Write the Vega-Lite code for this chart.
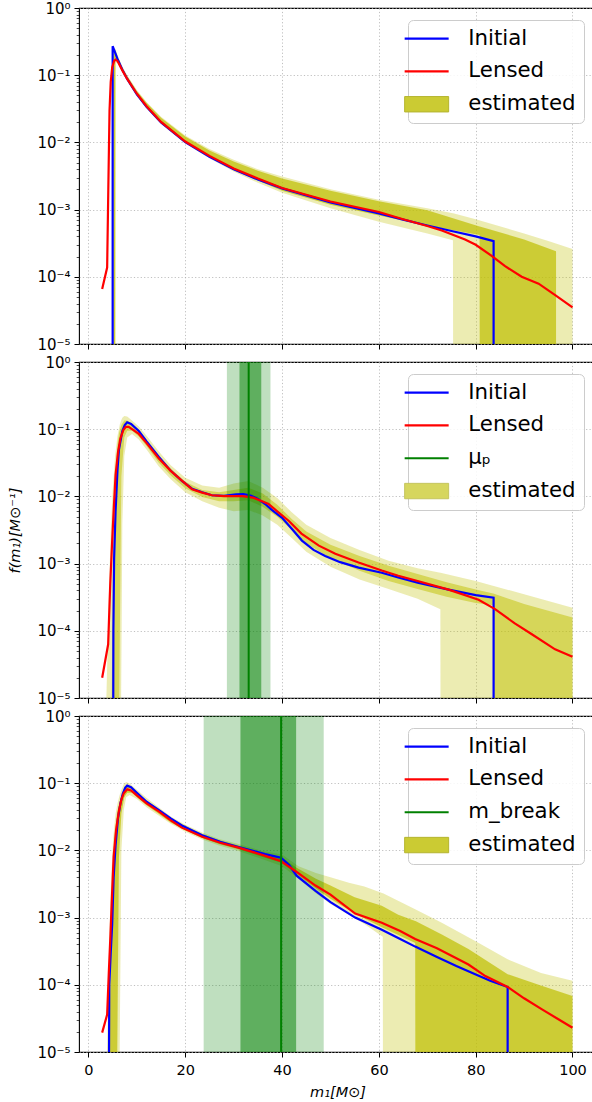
{
"$schema": "https://vega.github.io/schema/vega-lite/v6.json",
"background": "white",
"padding": {"left": 7, "top": 0, "right": 0, "bottom": 0},
"spacing": 18,
"bounds": "flush",
"resolve": {"scale": {"color": "independent"}, "legend": {"color": "independent"}},
"config": {
  "font": "DejaVu Sans",
  "view": {"stroke": "#000000", "strokeWidth": 1.1},
  "axis": {"domain": false, "tickColor": "#000000", "labelColor": "#000000", "labelFont": "DejaVu Sans", "labelFontSize": 14.5, "titleFont": "DejaVu Sans", "titleFontSize": 14.5, "titleColor": "#000000", "titleFontWeight": "normal", "gridColor": "#b0b0b0", "gridDash": [1.2, 2.2], "gridWidth": 0.8, "labelPadding": 4, "labelOverlap": false, "labelFlush": false, "tickSize": 5},
  "axisY": {"labelFontSize": 15},
  "legend": {"orient": "top-right", "offset": 12, "labelFont": "DejaVu Sans", "labelFontSize": 21.3, "labelColor": "#000000", "symbolSize": 1936, "symbolStrokeWidth": 2.2, "strokeColor": "#cccccc", "fillColor": "rgba(255,255,255,0.85)", "cornerRadius": 5, "padding": 8, "rowPadding": 10.8, "labelOffset": 31, "symbolType": "stroke", "labelLimit": 300}
},
"datasets": {
"lines": [
{"p":1,"s":"Initial","i":0,"x":5,"y":1e-6},{"p":1,"s":"Initial","i":1,"x":5,"y":0.27},{"p":1,"s":"Initial","i":2,"x":6,"y":0.175},{"p":1,"s":"Initial","i":3,"x":7,"y":0.121},{"p":1,"s":"Initial","i":4,"x":8,"y":0.088},{"p":1,"s":"Initial","i":5,"x":10,"y":0.052},{"p":1,"s":"Initial","i":6,"x":12,"y":0.0338},{"p":1,"s":"Initial","i":7,"x":15,"y":0.0198},{"p":1,"s":"Initial","i":8,"x":20,"y":0.0101},{"p":1,"s":"Initial","i":9,"x":25,"y":0.0061},{"p":1,"s":"Initial","i":10,"x":30,"y":0.004},{"p":1,"s":"Initial","i":11,"x":35,"y":0.0028},{"p":1,"s":"Initial","i":12,"x":40,"y":0.00207},{"p":1,"s":"Initial","i":13,"x":50,"y":0.00128},{"p":1,"s":"Initial","i":14,"x":60,"y":0.00088},{"p":1,"s":"Initial","i":15,"x":65,"y":0.00071},{"p":1,"s":"Initial","i":16,"x":70,"y":0.00058},{"p":1,"s":"Initial","i":17,"x":75,"y":0.00048},{"p":1,"s":"Initial","i":18,"x":80,"y":0.0004},{"p":1,"s":"Initial","i":19,"x":83.7,"y":0.00034},{"p":1,"s":"Initial","i":20,"x":83.7,"y":1e-6},
{"p":1,"s":"Lensed","i":0,"x":2.83,"y":6.6e-5},{"p":1,"s":"Lensed","i":1,"x":3.86,"y":1.37e-4},{"p":1,"s":"Lensed","i":2,"x":4.1,"y":0.002},{"p":1,"s":"Lensed","i":3,"x":4.35,"y":0.0295},{"p":1,"s":"Lensed","i":4,"x":4.6,"y":0.08},{"p":1,"s":"Lensed","i":5,"x":4.9,"y":0.13},{"p":1,"s":"Lensed","i":6,"x":5.3,"y":0.163},{"p":1,"s":"Lensed","i":7,"x":5.6,"y":0.17},{"p":1,"s":"Lensed","i":8,"x":6,"y":0.163},{"p":1,"s":"Lensed","i":9,"x":7,"y":0.118},{"p":1,"s":"Lensed","i":10,"x":8,"y":0.088},{"p":1,"s":"Lensed","i":11,"x":10,"y":0.053},{"p":1,"s":"Lensed","i":12,"x":12,"y":0.0345},{"p":1,"s":"Lensed","i":13,"x":15,"y":0.0202},{"p":1,"s":"Lensed","i":14,"x":20,"y":0.0103},{"p":1,"s":"Lensed","i":15,"x":25,"y":0.0063},{"p":1,"s":"Lensed","i":16,"x":30,"y":0.0041},{"p":1,"s":"Lensed","i":17,"x":35,"y":0.0029},{"p":1,"s":"Lensed","i":18,"x":40,"y":0.0021},{"p":1,"s":"Lensed","i":19,"x":50,"y":0.00132},{"p":1,"s":"Lensed","i":20,"x":60,"y":0.00092},{"p":1,"s":"Lensed","i":21,"x":65,"y":0.00072},{"p":1,"s":"Lensed","i":22,"x":70,"y":0.00057},{"p":1,"s":"Lensed","i":23,"x":73,"y":0.00049},{"p":1,"s":"Lensed","i":24,"x":77.8,"y":0.00036},{"p":1,"s":"Lensed","i":25,"x":80,"y":0.0003},{"p":1,"s":"Lensed","i":26,"x":83.3,"y":0.000205},{"p":1,"s":"Lensed","i":27,"x":86,"y":0.000145},{"p":1,"s":"Lensed","i":28,"x":89.5,"y":0.0001},{"p":1,"s":"Lensed","i":29,"x":93,"y":7.9e-5},{"p":1,"s":"Lensed","i":30,"x":96.5,"y":5.3e-5},{"p":1,"s":"Lensed","i":31,"x":100,"y":3.5e-5},
{"p":2,"s":"Initial","i":0,"x":5.1,"y":1e-6},{"p":2,"s":"Initial","i":1,"x":5.15,"y":1e-4},{"p":2,"s":"Initial","i":2,"x":5.3,"y":0.0012},{"p":2,"s":"Initial","i":3,"x":5.6,"y":0.006},{"p":2,"s":"Initial","i":4,"x":6,"y":0.025},{"p":2,"s":"Initial","i":5,"x":6.3,"y":0.05},{"p":2,"s":"Initial","i":6,"x":7,"y":0.094},{"p":2,"s":"Initial","i":7,"x":7.5,"y":0.115},{"p":2,"s":"Initial","i":8,"x":8,"y":0.127},{"p":2,"s":"Initial","i":9,"x":8.8,"y":0.12},{"p":2,"s":"Initial","i":10,"x":10.4,"y":0.094},{"p":2,"s":"Initial","i":11,"x":12,"y":0.066},{"p":2,"s":"Initial","i":12,"x":14.5,"y":0.039},{"p":2,"s":"Initial","i":13,"x":17,"y":0.024},{"p":2,"s":"Initial","i":14,"x":19.3,"y":0.017},{"p":2,"s":"Initial","i":15,"x":21.4,"y":0.013},{"p":2,"s":"Initial","i":16,"x":23.5,"y":0.0115},{"p":2,"s":"Initial","i":17,"x":25.5,"y":0.0104},{"p":2,"s":"Initial","i":18,"x":28,"y":0.0102},{"p":2,"s":"Initial","i":19,"x":30.5,"y":0.0107},{"p":2,"s":"Initial","i":20,"x":32,"y":0.0108},{"p":2,"s":"Initial","i":21,"x":33.5,"y":0.0103},{"p":2,"s":"Initial","i":22,"x":35,"y":0.0092},{"p":2,"s":"Initial","i":23,"x":36.5,"y":0.0077},{"p":2,"s":"Initial","i":24,"x":38,"y":0.0062},{"p":2,"s":"Initial","i":25,"x":40,"y":0.0048},{"p":2,"s":"Initial","i":26,"x":42,"y":0.0033},{"p":2,"s":"Initial","i":27,"x":44.1,"y":0.0022},{"p":2,"s":"Initial","i":28,"x":46.5,"y":0.0016},{"p":2,"s":"Initial","i":29,"x":48.9,"y":0.0013},{"p":2,"s":"Initial","i":30,"x":52,"y":0.00105},{"p":2,"s":"Initial","i":31,"x":55.8,"y":0.00087},{"p":2,"s":"Initial","i":32,"x":60.6,"y":0.00073},{"p":2,"s":"Initial","i":33,"x":64,"y":0.00062},{"p":2,"s":"Initial","i":34,"x":68,"y":0.00052},{"p":2,"s":"Initial","i":35,"x":74.4,"y":0.00041},{"p":2,"s":"Initial","i":36,"x":80,"y":0.00034},{"p":2,"s":"Initial","i":37,"x":83.7,"y":0.00031},{"p":2,"s":"Initial","i":38,"x":83.7,"y":1e-6},
{"p":2,"s":"Lensed","i":0,"x":2.83,"y":2e-5},{"p":2,"s":"Lensed","i":1,"x":4.07,"y":6.3e-5},{"p":2,"s":"Lensed","i":2,"x":4.5,"y":5e-4},{"p":2,"s":"Lensed","i":3,"x":4.9,"y":0.0022},{"p":2,"s":"Lensed","i":4,"x":5.2,"y":0.006},{"p":2,"s":"Lensed","i":5,"x":5.6,"y":0.021},{"p":2,"s":"Lensed","i":6,"x":6.1,"y":0.045},{"p":2,"s":"Lensed","i":7,"x":6.6,"y":0.073},{"p":2,"s":"Lensed","i":8,"x":7.2,"y":0.097},{"p":2,"s":"Lensed","i":9,"x":7.7,"y":0.108},{"p":2,"s":"Lensed","i":10,"x":8.3,"y":0.108},{"p":2,"s":"Lensed","i":11,"x":9,"y":0.1},{"p":2,"s":"Lensed","i":12,"x":10.4,"y":0.085},{"p":2,"s":"Lensed","i":13,"x":12,"y":0.062},{"p":2,"s":"Lensed","i":14,"x":14.5,"y":0.037},{"p":2,"s":"Lensed","i":15,"x":17,"y":0.024},{"p":2,"s":"Lensed","i":16,"x":19.3,"y":0.0172},{"p":2,"s":"Lensed","i":17,"x":21.4,"y":0.0128},{"p":2,"s":"Lensed","i":18,"x":23.5,"y":0.0114},{"p":2,"s":"Lensed","i":19,"x":25.5,"y":0.0104},{"p":2,"s":"Lensed","i":20,"x":28,"y":0.0101},{"p":2,"s":"Lensed","i":21,"x":31.8,"y":0.0101},{"p":2,"s":"Lensed","i":22,"x":34,"y":0.0096},{"p":2,"s":"Lensed","i":23,"x":36,"y":0.0084},{"p":2,"s":"Lensed","i":24,"x":37.2,"y":0.0077},{"p":2,"s":"Lensed","i":25,"x":39,"y":0.006},{"p":2,"s":"Lensed","i":26,"x":41.4,"y":0.0043},{"p":2,"s":"Lensed","i":27,"x":44,"y":0.0028},{"p":2,"s":"Lensed","i":28,"x":47.6,"y":0.00185},{"p":2,"s":"Lensed","i":29,"x":51,"y":0.0014},{"p":2,"s":"Lensed","i":30,"x":55.8,"y":0.00104},{"p":2,"s":"Lensed","i":31,"x":60.6,"y":0.00079},{"p":2,"s":"Lensed","i":32,"x":64,"y":0.00066},{"p":2,"s":"Lensed","i":33,"x":68,"y":0.00055},{"p":2,"s":"Lensed","i":34,"x":74.4,"y":0.00041},{"p":2,"s":"Lensed","i":35,"x":80.6,"y":0.00029},{"p":2,"s":"Lensed","i":36,"x":84,"y":0.00021},{"p":2,"s":"Lensed","i":37,"x":88,"y":0.00013},{"p":2,"s":"Lensed","i":38,"x":91.6,"y":8.9e-5},{"p":2,"s":"Lensed","i":39,"x":96.4,"y":5.3e-5},{"p":2,"s":"Lensed","i":40,"x":100,"y":4.1e-5},
{"p":3,"s":"Initial","i":0,"x":4.2,"y":1e-6},{"p":3,"s":"Initial","i":1,"x":4.3,"y":1e-4},{"p":3,"s":"Initial","i":2,"x":4.6,"y":3e-4},{"p":3,"s":"Initial","i":3,"x":4.9,"y":8e-4},{"p":3,"s":"Initial","i":4,"x":5.2,"y":0.004},{"p":3,"s":"Initial","i":5,"x":5.6,"y":0.012},{"p":3,"s":"Initial","i":6,"x":6.1,"y":0.03},{"p":3,"s":"Initial","i":7,"x":6.6,"y":0.05},{"p":3,"s":"Initial","i":8,"x":7.1,"y":0.07},{"p":3,"s":"Initial","i":9,"x":7.6,"y":0.086},{"p":3,"s":"Initial","i":10,"x":8,"y":0.092},{"p":3,"s":"Initial","i":11,"x":8.8,"y":0.087},{"p":3,"s":"Initial","i":12,"x":10,"y":0.072},{"p":3,"s":"Initial","i":13,"x":12,"y":0.053},{"p":3,"s":"Initial","i":14,"x":14.5,"y":0.04},{"p":3,"s":"Initial","i":15,"x":17,"y":0.03},{"p":3,"s":"Initial","i":16,"x":19.3,"y":0.0235},{"p":3,"s":"Initial","i":17,"x":23.5,"y":0.0168},{"p":3,"s":"Initial","i":18,"x":27.2,"y":0.0134},{"p":3,"s":"Initial","i":19,"x":31,"y":0.0112},{"p":3,"s":"Initial","i":20,"x":36.5,"y":0.0088},{"p":3,"s":"Initial","i":21,"x":39.8,"y":0.0078},{"p":3,"s":"Initial","i":22,"x":41.5,"y":0.006},{"p":3,"s":"Initial","i":23,"x":43,"y":0.0042},{"p":3,"s":"Initial","i":24,"x":46.9,"y":0.0025},{"p":3,"s":"Initial","i":25,"x":50,"y":0.0017},{"p":3,"s":"Initial","i":26,"x":55.1,"y":0.001},{"p":3,"s":"Initial","i":27,"x":60.6,"y":0.00066},{"p":3,"s":"Initial","i":28,"x":64.4,"y":0.00048},{"p":3,"s":"Initial","i":29,"x":67.5,"y":0.00037},{"p":3,"s":"Initial","i":30,"x":72,"y":0.00026},{"p":3,"s":"Initial","i":31,"x":76,"y":0.00019},{"p":3,"s":"Initial","i":32,"x":79.9,"y":0.000143},{"p":3,"s":"Initial","i":33,"x":83,"y":0.000115},{"p":3,"s":"Initial","i":34,"x":86.6,"y":9.3e-5},{"p":3,"s":"Initial","i":35,"x":86.6,"y":1e-6},
{"p":3,"s":"Lensed","i":0,"x":2.83,"y":1.94e-5},{"p":3,"s":"Lensed","i":1,"x":3.86,"y":3.6e-5},{"p":3,"s":"Lensed","i":2,"x":4.2,"y":1.5e-4},{"p":3,"s":"Lensed","i":3,"x":4.55,"y":5.7e-4},{"p":3,"s":"Lensed","i":4,"x":4.9,"y":0.0025},{"p":3,"s":"Lensed","i":5,"x":5.2,"y":0.008},{"p":3,"s":"Lensed","i":6,"x":5.7,"y":0.02},{"p":3,"s":"Lensed","i":7,"x":6.3,"y":0.039},{"p":3,"s":"Lensed","i":8,"x":6.8,"y":0.057},{"p":3,"s":"Lensed","i":9,"x":7.3,"y":0.071},{"p":3,"s":"Lensed","i":10,"x":8,"y":0.081},{"p":3,"s":"Lensed","i":11,"x":8.8,"y":0.078},{"p":3,"s":"Lensed","i":12,"x":10,"y":0.066},{"p":3,"s":"Lensed","i":13,"x":12,"y":0.05},{"p":3,"s":"Lensed","i":14,"x":14.5,"y":0.038},{"p":3,"s":"Lensed","i":15,"x":17,"y":0.028},{"p":3,"s":"Lensed","i":16,"x":19.3,"y":0.0218},{"p":3,"s":"Lensed","i":17,"x":23.5,"y":0.016},{"p":3,"s":"Lensed","i":18,"x":27.2,"y":0.013},{"p":3,"s":"Lensed","i":19,"x":31,"y":0.011},{"p":3,"s":"Lensed","i":20,"x":36.5,"y":0.0083},{"p":3,"s":"Lensed","i":21,"x":39.8,"y":0.0069},{"p":3,"s":"Lensed","i":22,"x":43,"y":0.0048},{"p":3,"s":"Lensed","i":23,"x":46.9,"y":0.003},{"p":3,"s":"Lensed","i":24,"x":50,"y":0.0022},{"p":3,"s":"Lensed","i":25,"x":55.1,"y":0.00115},{"p":3,"s":"Lensed","i":26,"x":60.6,"y":0.00084},{"p":3,"s":"Lensed","i":27,"x":64.4,"y":0.00063},{"p":3,"s":"Lensed","i":28,"x":67.5,"y":0.00048},{"p":3,"s":"Lensed","i":29,"x":72,"y":0.00035},{"p":3,"s":"Lensed","i":30,"x":78.5,"y":0.0002},{"p":3,"s":"Lensed","i":31,"x":82,"y":0.000135},{"p":3,"s":"Lensed","i":32,"x":86.6,"y":9.3e-5},{"p":3,"s":"Lensed","i":33,"x":90,"y":6.3e-5},{"p":3,"s":"Lensed","i":34,"x":93.7,"y":4.3e-5},{"p":3,"s":"Lensed","i":35,"x":97,"y":3.1e-5},{"p":3,"s":"Lensed","i":36,"x":100,"y":2.3e-5}
],
"bands": [
{"p":1,"b":"90","x":5.0,"lo":1e-6,"hi":0.255},{"p":1,"b":"90","x":5.6,"lo":1e-6,"hi":0.245},{"p":1,"b":"90","x":5.65,"lo":0.15,"hi":0.24},{"p":1,"b":"90","x":6,"lo":0.155,"hi":0.2},{"p":1,"b":"90","x":7,"lo":0.11,"hi":0.135},{"p":1,"b":"90","x":8,"lo":0.082,"hi":0.1},{"p":1,"b":"90","x":10,"lo":0.049,"hi":0.06},{"p":1,"b":"90","x":12,"lo":0.032,"hi":0.04},{"p":1,"b":"90","x":15,"lo":0.0188,"hi":0.024},{"p":1,"b":"90","x":20,"lo":0.0096,"hi":0.0127},{"p":1,"b":"90","x":25,"lo":0.0058,"hi":0.008},{"p":1,"b":"90","x":30,"lo":0.0037,"hi":0.0055},{"p":1,"b":"90","x":35,"lo":0.0025,"hi":0.004},{"p":1,"b":"90","x":40,"lo":0.00178,"hi":0.0031},{"p":1,"b":"90","x":50,"lo":0.00105,"hi":0.002},{"p":1,"b":"90","x":60,"lo":0.00066,"hi":0.0014},{"p":1,"b":"90","x":70,"lo":0.00044,"hi":0.00105},{"p":1,"b":"90","x":75.3,"lo":0.00035,"hi":0.00088},{"p":1,"b":"90","x":75.35,"lo":1e-6,"hi":0.00088},{"p":1,"b":"90","x":80,"lo":1e-6,"hi":0.00072},{"p":1,"b":"90","x":90,"lo":1e-6,"hi":0.00044},{"p":1,"b":"90","x":95,"lo":1e-6,"hi":0.00034},{"p":1,"b":"90","x":100,"lo":1e-6,"hi":0.00026},
{"p":1,"b":"50","x":5.2,"lo":1e-6,"hi":0.25},{"p":1,"b":"50","x":5.5,"lo":1e-6,"hi":0.24},{"p":1,"b":"50","x":5.55,"lo":0.17,"hi":0.235},{"p":1,"b":"50","x":6,"lo":0.16,"hi":0.19},{"p":1,"b":"50","x":7,"lo":0.113,"hi":0.13},{"p":1,"b":"50","x":8,"lo":0.085,"hi":0.097},{"p":1,"b":"50","x":10,"lo":0.05,"hi":0.058},{"p":1,"b":"50","x":12,"lo":0.033,"hi":0.039},{"p":1,"b":"50","x":15,"lo":0.0193,"hi":0.0232},{"p":1,"b":"50","x":20,"lo":0.0099,"hi":0.0122},{"p":1,"b":"50","x":25,"lo":0.006,"hi":0.0076},{"p":1,"b":"50","x":30,"lo":0.0039,"hi":0.0052},{"p":1,"b":"50","x":35,"lo":0.0027,"hi":0.0038},{"p":1,"b":"50","x":40,"lo":0.0019,"hi":0.0029},{"p":1,"b":"50","x":50,"lo":0.00118,"hi":0.0019},{"p":1,"b":"50","x":60,"lo":0.00082,"hi":0.00133},{"p":1,"b":"50","x":70,"lo":0.00058,"hi":0.00098},{"p":1,"b":"50","x":80.8,"lo":0.00042,"hi":0.00056},{"p":1,"b":"50","x":80.85,"lo":1e-6,"hi":0.00056},{"p":1,"b":"50","x":90,"lo":1e-6,"hi":0.00036},{"p":1,"b":"50","x":96.6,"lo":1e-6,"hi":0.00024},
{"p":2,"b":"90","x":3.7,"lo":1e-6,"hi":1e-5},{"p":2,"b":"90","x":4.2,"lo":1e-6,"hi":3e-4},{"p":2,"b":"90","x":4.6,"lo":1e-6,"hi":0.003},{"p":2,"b":"90","x":5,"lo":1e-6,"hi":0.012},{"p":2,"b":"90","x":5.5,"lo":1e-6,"hi":0.04},{"p":2,"b":"90","x":6,"lo":1e-6,"hi":0.08},{"p":2,"b":"90","x":6.5,"lo":1e-6,"hi":0.12},{"p":2,"b":"90","x":6.75,"lo":1e-5,"hi":0.135},{"p":2,"b":"90","x":7,"lo":0.004,"hi":0.148},{"p":2,"b":"90","x":7.4,"lo":0.04,"hi":0.157},{"p":2,"b":"90","x":8,"lo":0.075,"hi":0.155},{"p":2,"b":"90","x":9,"lo":0.085,"hi":0.135},{"p":2,"b":"90","x":10.4,"lo":0.07,"hi":0.11},{"p":2,"b":"90","x":12,"lo":0.05,"hi":0.08},{"p":2,"b":"90","x":14.5,"lo":0.028,"hi":0.047},{"p":2,"b":"90","x":17,"lo":0.018,"hi":0.029},{"p":2,"b":"90","x":20,"lo":0.0115,"hi":0.019},{"p":2,"b":"90","x":23.5,"lo":0.0085,"hi":0.0145},{"p":2,"b":"90","x":27,"lo":0.0068,"hi":0.0135},{"p":2,"b":"90","x":30,"lo":0.006,"hi":0.0155},{"p":2,"b":"90","x":33,"lo":0.0063,"hi":0.017},{"p":2,"b":"90","x":36,"lo":0.0052,"hi":0.0135},{"p":2,"b":"90","x":39,"lo":0.0038,"hi":0.0095},{"p":2,"b":"90","x":42,"lo":0.0024,"hi":0.0058},{"p":2,"b":"90","x":45,"lo":0.0015,"hi":0.0038},{"p":2,"b":"90","x":50,"lo":0.0009,"hi":0.0024},{"p":2,"b":"90","x":56,"lo":0.00058,"hi":0.0016},{"p":2,"b":"90","x":62,"lo":0.00042,"hi":0.0011},{"p":2,"b":"90","x":68,"lo":0.0003,"hi":0.00085},{"p":2,"b":"90","x":72.7,"lo":0.00021,"hi":0.00073},{"p":2,"b":"90","x":72.75,"lo":1e-6,"hi":0.00073},{"p":2,"b":"90","x":80,"lo":1e-6,"hi":0.00055},{"p":2,"b":"90","x":90,"lo":1e-6,"hi":0.00035},{"p":2,"b":"90","x":100,"lo":1e-6,"hi":0.00022},
{"p":2,"b":"50","x":4.8,"lo":1e-6,"hi":1e-5},{"p":2,"b":"50","x":5.1,"lo":1e-6,"hi":0.002},{"p":2,"b":"50","x":5.5,"lo":1e-6,"hi":0.02},{"p":2,"b":"50","x":6,"lo":1e-6,"hi":0.06},{"p":2,"b":"50","x":6.3,"lo":1e-6,"hi":0.085},{"p":2,"b":"50","x":6.35,"lo":1e-5,"hi":0.09},{"p":2,"b":"50","x":6.8,"lo":0.02,"hi":0.115},{"p":2,"b":"50","x":7.4,"lo":0.075,"hi":0.135},{"p":2,"b":"50","x":8,"lo":0.095,"hi":0.135},{"p":2,"b":"50","x":9,"lo":0.095,"hi":0.122},{"p":2,"b":"50","x":10.4,"lo":0.078,"hi":0.097},{"p":2,"b":"50","x":12,"lo":0.056,"hi":0.07},{"p":2,"b":"50","x":14.5,"lo":0.032,"hi":0.041},{"p":2,"b":"50","x":17,"lo":0.0205,"hi":0.026},{"p":2,"b":"50","x":20,"lo":0.0132,"hi":0.0165},{"p":2,"b":"50","x":23.5,"lo":0.0098,"hi":0.0125},{"p":2,"b":"50","x":27,"lo":0.0085,"hi":0.0115},{"p":2,"b":"50","x":30,"lo":0.0085,"hi":0.0125},{"p":2,"b":"50","x":33,"lo":0.0088,"hi":0.0135},{"p":2,"b":"50","x":36,"lo":0.007,"hi":0.011},{"p":2,"b":"50","x":39,"lo":0.005,"hi":0.0075},{"p":2,"b":"50","x":42,"lo":0.0032,"hi":0.0046},{"p":2,"b":"50","x":45,"lo":0.002,"hi":0.003},{"p":2,"b":"50","x":50,"lo":0.0012,"hi":0.0019},{"p":2,"b":"50","x":56,"lo":0.00078,"hi":0.0013},{"p":2,"b":"50","x":62,"lo":0.00055,"hi":0.00093},{"p":2,"b":"50","x":68,"lo":0.00042,"hi":0.0007},{"p":2,"b":"50","x":74,"lo":0.00032,"hi":0.00053},{"p":2,"b":"50","x":80,"lo":0.00026,"hi":0.00041},{"p":2,"b":"50","x":83.6,"lo":0.00024,"hi":0.00036},{"p":2,"b":"50","x":83.65,"lo":1e-6,"hi":0.00036},{"p":2,"b":"50","x":90,"lo":1e-6,"hi":0.00025},{"p":2,"b":"50","x":100,"lo":1e-6,"hi":0.000158},
{"p":3,"b":"90","x":3.85,"lo":1e-6,"hi":1e-5},{"p":3,"b":"90","x":4.3,"lo":1e-6,"hi":5e-4},{"p":3,"b":"90","x":4.7,"lo":1e-6,"hi":0.004},{"p":3,"b":"90","x":5.1,"lo":1e-6,"hi":0.015},{"p":3,"b":"90","x":5.6,"lo":1e-6,"hi":0.035},{"p":3,"b":"90","x":6,"lo":1e-6,"hi":0.05},{"p":3,"b":"90","x":6.4,"lo":1e-6,"hi":0.065},{"p":3,"b":"90","x":6.45,"lo":1e-5,"hi":0.067},{"p":3,"b":"90","x":6.8,"lo":0.01,"hi":0.08},{"p":3,"b":"90","x":7.3,"lo":0.04,"hi":0.097},{"p":3,"b":"90","x":7.8,"lo":0.062,"hi":0.104},{"p":3,"b":"90","x":8.5,"lo":0.067,"hi":0.099},{"p":3,"b":"90","x":10,"lo":0.058,"hi":0.08},{"p":3,"b":"90","x":12,"lo":0.044,"hi":0.06},{"p":3,"b":"90","x":14.5,"lo":0.033,"hi":0.044},{"p":3,"b":"90","x":17,"lo":0.025,"hi":0.032},{"p":3,"b":"90","x":20,"lo":0.019,"hi":0.024},{"p":3,"b":"90","x":23.5,"lo":0.0145,"hi":0.0185},{"p":3,"b":"90","x":27,"lo":0.0118,"hi":0.0148},{"p":3,"b":"90","x":31,"lo":0.0098,"hi":0.0125},{"p":3,"b":"90","x":36,"lo":0.0074,"hi":0.0098},{"p":3,"b":"90","x":40,"lo":0.0058,"hi":0.0087},{"p":3,"b":"90","x":43.4,"lo":0.0038,"hi":0.0058},{"p":3,"b":"90","x":47,"lo":0.0023,"hi":0.0046},{"p":3,"b":"90","x":50,"lo":0.0016,"hi":0.004},{"p":3,"b":"90","x":53.8,"lo":0.0011,"hi":0.0033},{"p":3,"b":"90","x":57,"lo":0.0008,"hi":0.0029},{"p":3,"b":"90","x":60.8,"lo":0.00052,"hi":0.0023},{"p":3,"b":"90","x":60.85,"lo":1e-6,"hi":0.0023},{"p":3,"b":"90","x":67.5,"lo":1e-6,"hi":0.00133},{"p":3,"b":"90","x":73,"lo":1e-6,"hi":0.00084},{"p":3,"b":"90","x":79.9,"lo":1e-6,"hi":0.00045},{"p":3,"b":"90","x":86.6,"lo":1e-6,"hi":0.00024},{"p":3,"b":"90","x":93.5,"lo":1e-6,"hi":0.00015},{"p":3,"b":"90","x":100,"lo":1e-6,"hi":0.000115},
{"p":3,"b":"50","x":4.3,"lo":1e-6,"hi":1e-5},{"p":3,"b":"50","x":4.7,"lo":1e-6,"hi":0.001},{"p":3,"b":"50","x":5.1,"lo":1e-6,"hi":0.008},{"p":3,"b":"50","x":5.5,"lo":1e-6,"hi":0.02},{"p":3,"b":"50","x":5.9,"lo":1e-6,"hi":0.035},{"p":3,"b":"50","x":5.95,"lo":1e-5,"hi":0.037},{"p":3,"b":"50","x":6.3,"lo":0.008,"hi":0.048},{"p":3,"b":"50","x":6.8,"lo":0.035,"hi":0.065},{"p":3,"b":"50","x":7.4,"lo":0.062,"hi":0.085},{"p":3,"b":"50","x":8,"lo":0.072,"hi":0.09},{"p":3,"b":"50","x":9,"lo":0.072,"hi":0.084},{"p":3,"b":"50","x":10,"lo":0.062,"hi":0.073},{"p":3,"b":"50","x":12,"lo":0.047,"hi":0.055},{"p":3,"b":"50","x":14.5,"lo":0.035,"hi":0.041},{"p":3,"b":"50","x":17,"lo":0.026,"hi":0.03},{"p":3,"b":"50","x":20,"lo":0.02,"hi":0.0232},{"p":3,"b":"50","x":23.5,"lo":0.0153,"hi":0.0175},{"p":3,"b":"50","x":27,"lo":0.0125,"hi":0.0142},{"p":3,"b":"50","x":31,"lo":0.0104,"hi":0.0118},{"p":3,"b":"50","x":36,"lo":0.008,"hi":0.0091},{"p":3,"b":"50","x":40,"lo":0.0065,"hi":0.0077},{"p":3,"b":"50","x":43,"lo":0.0044,"hi":0.0055},{"p":3,"b":"50","x":47,"lo":0.0027,"hi":0.0038},{"p":3,"b":"50","x":50,"lo":0.0019,"hi":0.003},{"p":3,"b":"50","x":55,"lo":0.00115,"hi":0.002},{"p":3,"b":"50","x":60.6,"lo":0.00072,"hi":0.0015},{"p":3,"b":"50","x":64,"lo":0.00055,"hi":0.0011},{"p":3,"b":"50","x":67.5,"lo":0.00042,"hi":0.00089},{"p":3,"b":"50","x":67.55,"lo":1e-6,"hi":0.00089},{"p":3,"b":"50","x":73,"lo":1e-6,"hi":0.00056},{"p":3,"b":"50","x":78.5,"lo":1e-6,"hi":0.00034},{"p":3,"b":"50","x":86.6,"lo":1e-6,"hi":0.000144},{"p":3,"b":"50","x":93,"lo":1e-6,"hi":0.0001},{"p":3,"b":"50","x":100,"lo":1e-6,"hi":6.8e-5}
],
"spans": [
{"p":2,"k":"outer","x1":28.6,"x2":37.6},{"p":2,"k":"inner","x1":31.2,"x2":35.7},
{"p":3,"k":"outer","x1":23.8,"x2":48.6},{"p":3,"k":"inner","x1":31.4,"x2":42.9}
],
"vlines": [
{"p":2,"s":"μₚ","x":33.1},{"p":3,"s":"m_break","x":39.8}
]
},
"vconcat": [
{
"width": 517, "height": 336,
"layer": [
{"data": {"name": "bands"}, "transform": [{"filter": "datum.p == 1 && datum.b == '90'"}],
 "mark": {"type": "area", "clip": true, "color": "#bfbf00", "opacity": 0.3},
 "encoding": {
  "x": {"field": "x", "type": "quantitative", "scale": {"domain": [-1.955, 104.855], "nice": false, "zero": false}, "axis": {"values": [0,20,40,60,80,100], "labels": false, "title": null, "grid": true}},
  "y": {"field": "lo", "type": "quantitative", "scale": {"type": "log", "domain": [0.00001, 1], "nice": false}, "axis": {"title": null, "grid": true,
    "values": [1,0.1,0.01,0.001,0.0001,0.00001,0.2,0.3,0.4,0.5,0.6,0.7,0.8,0.9,0.02,0.03,0.04,0.05,0.06,0.07,0.08,0.09,0.002,0.003,0.004,0.005,0.006,0.007,0.008,0.009,0.0002,0.0003,0.0004,0.0005,0.0006,0.0007,0.0008,0.0009,0.00002,0.00003,0.00004,0.00005,0.00006,0.00007,0.00008,0.00009],
    "labelExpr": "abs(log(datum.value)/LN10-round(log(datum.value)/LN10))<0.000001 ? '10' + ['⁰','⁻¹','⁻²','⁻³','⁻⁴','⁻⁵'][round(-log(datum.value)/LN10)] : ''",
    "tickSize": {"condition": {"test": "abs(log(datum.value)/LN10-round(log(datum.value)/LN10))<0.000001", "value": 5}, "value": 2.8},
    "tickWidth": {"condition": {"test": "abs(log(datum.value)/LN10-round(log(datum.value)/LN10))<0.000001", "value": 1}, "value": 0.7},
    "gridOpacity": {"condition": {"test": "abs(log(datum.value)/LN10-round(log(datum.value)/LN10))<0.000001", "value": 1}, "value": 0}}},
  "y2": {"field": "hi"}}},
{"data": {"name": "bands"}, "transform": [{"filter": "datum.p == 1 && datum.b == '50'"}],
 "mark": {"type": "area", "clip": true, "color": "#bfbf00", "opacity": 0.7},
 "encoding": {"x": {"field": "x", "type": "quantitative"}, "y": {"field": "lo", "type": "quantitative"}, "y2": {"field": "hi"}}},
{"data": {"name": "lines"}, "transform": [{"filter": "datum.p == 1"}],
 "mark": {"type": "line", "clip": true, "strokeWidth": 2.2},
 "encoding": {"x": {"field": "x", "type": "quantitative"}, "y": {"field": "y", "type": "quantitative"}, "order": {"field": "i", "type": "quantitative"},
  "color": {"field": "s", "type": "nominal", "scale": {"domain": ["Initial", "Lensed", "estimated"], "range": ["#0000ff", "#ff0000", "#b5b530"]},
   "legend": {"title": null, "encode": {"symbols": {"update": {"shape": {"signal": "datum.value === 'estimated' ? 'M-1,-0.35L1,-0.35L1,0.35L-1,0.35Z' : 'M-1,0L1,0'"}, "fill": {"signal": "datum.value === 'estimated' ? '#cbcb33' : 'transparent'"}, "strokeWidth": {"signal": "datum.value === 'estimated' ? 1 : 2.2"}}}}}}}}
]
},
{
"width": 517, "height": 336,
"layer": [
{"data": {"name": "bands"}, "transform": [{"filter": "datum.p == 2 && datum.b == '90'"}],
 "mark": {"type": "area", "clip": true, "color": "#bfbf00", "opacity": 0.3},
 "encoding": {
  "x": {"field": "x", "type": "quantitative", "scale": {"domain": [-1.955, 104.855], "nice": false, "zero": false}, "axis": {"values": [0,20,40,60,80,100], "labels": false, "title": null, "grid": true}},
  "y": {"field": "lo", "type": "quantitative", "scale": {"type": "log", "domain": [0.00001, 1], "nice": false}, "axis": {"title": "f(m₁)[M⊙⁻¹]", "titleFontStyle": "italic", "titlePadding": 14, "grid": true,
    "values": [1,0.1,0.01,0.001,0.0001,0.00001,0.2,0.3,0.4,0.5,0.6,0.7,0.8,0.9,0.02,0.03,0.04,0.05,0.06,0.07,0.08,0.09,0.002,0.003,0.004,0.005,0.006,0.007,0.008,0.009,0.0002,0.0003,0.0004,0.0005,0.0006,0.0007,0.0008,0.0009,0.00002,0.00003,0.00004,0.00005,0.00006,0.00007,0.00008,0.00009],
    "labelExpr": "abs(log(datum.value)/LN10-round(log(datum.value)/LN10))<0.000001 ? '10' + ['⁰','⁻¹','⁻²','⁻³','⁻⁴','⁻⁵'][round(-log(datum.value)/LN10)] : ''",
    "tickSize": {"condition": {"test": "abs(log(datum.value)/LN10-round(log(datum.value)/LN10))<0.000001", "value": 5}, "value": 2.8},
    "tickWidth": {"condition": {"test": "abs(log(datum.value)/LN10-round(log(datum.value)/LN10))<0.000001", "value": 1}, "value": 0.7},
    "gridOpacity": {"condition": {"test": "abs(log(datum.value)/LN10-round(log(datum.value)/LN10))<0.000001", "value": 1}, "value": 0}}},
  "y2": {"field": "hi"}}},
{"data": {"name": "bands"}, "transform": [{"filter": "datum.p == 2 && datum.b == '50'"}],
 "mark": {"type": "area", "clip": true, "color": "#bfbf00", "opacity": 0.5},
 "encoding": {"x": {"field": "x", "type": "quantitative"}, "y": {"field": "lo", "type": "quantitative"}, "y2": {"field": "hi"}}},
{"data": {"name": "spans"}, "transform": [{"filter": "datum.p == 2 && datum.k == 'outer'"}],
 "mark": {"type": "rect", "color": "#008000", "opacity": 0.25},
 "encoding": {"x": {"field": "x1", "type": "quantitative"}, "x2": {"field": "x2"}}},
{"data": {"name": "spans"}, "transform": [{"filter": "datum.p == 2 && datum.k == 'inner'"}],
 "mark": {"type": "rect", "color": "#008000", "opacity": 0.5},
 "encoding": {"x": {"field": "x1", "type": "quantitative"}, "x2": {"field": "x2"}}},
{"data": {"name": "lines"}, "transform": [{"filter": "datum.p == 2"}],
 "mark": {"type": "line", "clip": true, "strokeWidth": 2.2},
 "encoding": {"x": {"field": "x", "type": "quantitative"}, "y": {"field": "y", "type": "quantitative"}, "order": {"field": "i", "type": "quantitative"},
  "color": {"field": "s", "type": "nominal", "scale": {"domain": ["Initial", "Lensed", "μₚ", "estimated"], "range": ["#0000ff", "#ff0000", "#008000", "#c5c560"]},
   "legend": {"title": null, "encode": {"symbols": {"update": {"shape": {"signal": "datum.value === 'estimated' ? 'M-1,-0.35L1,-0.35L1,0.35L-1,0.35Z' : 'M-1,0L1,0'"}, "fill": {"signal": "datum.value === 'estimated' ? '#d6d65e' : 'transparent'"}, "strokeWidth": {"signal": "datum.value === 'estimated' ? 1 : 2.2"}}}}}}}},
{"data": {"name": "vlines"}, "transform": [{"filter": "datum.p == 2"}],
 "mark": {"type": "rule", "strokeWidth": 2},
 "encoding": {"x": {"field": "x", "type": "quantitative"}, "color": {"field": "s", "type": "nominal"}}}
]
},
{
"width": 517, "height": 336,
"layer": [
{"data": {"name": "bands"}, "transform": [{"filter": "datum.p == 3 && datum.b == '90'"}],
 "mark": {"type": "area", "clip": true, "color": "#bfbf00", "opacity": 0.3},
 "encoding": {
  "x": {"field": "x", "type": "quantitative", "scale": {"domain": [-1.955, 104.855], "nice": false, "zero": false}, "axis": {"values": [0,20,40,60,80,100], "title": "m₁[M⊙]", "titleFontStyle": "italic", "titlePadding": 9, "labelPadding": 6, "grid": true}},
  "y": {"field": "lo", "type": "quantitative", "scale": {"type": "log", "domain": [0.00001, 1], "nice": false}, "axis": {"title": null, "grid": true,
    "values": [1,0.1,0.01,0.001,0.0001,0.00001,0.2,0.3,0.4,0.5,0.6,0.7,0.8,0.9,0.02,0.03,0.04,0.05,0.06,0.07,0.08,0.09,0.002,0.003,0.004,0.005,0.006,0.007,0.008,0.009,0.0002,0.0003,0.0004,0.0005,0.0006,0.0007,0.0008,0.0009,0.00002,0.00003,0.00004,0.00005,0.00006,0.00007,0.00008,0.00009],
    "labelExpr": "abs(log(datum.value)/LN10-round(log(datum.value)/LN10))<0.000001 ? '10' + ['⁰','⁻¹','⁻²','⁻³','⁻⁴','⁻⁵'][round(-log(datum.value)/LN10)] : ''",
    "tickSize": {"condition": {"test": "abs(log(datum.value)/LN10-round(log(datum.value)/LN10))<0.000001", "value": 5}, "value": 2.8},
    "tickWidth": {"condition": {"test": "abs(log(datum.value)/LN10-round(log(datum.value)/LN10))<0.000001", "value": 1}, "value": 0.7},
    "gridOpacity": {"condition": {"test": "abs(log(datum.value)/LN10-round(log(datum.value)/LN10))<0.000001", "value": 1}, "value": 0}}},
  "y2": {"field": "hi"}}},
{"data": {"name": "bands"}, "transform": [{"filter": "datum.p == 3 && datum.b == '50'"}],
 "mark": {"type": "area", "clip": true, "color": "#bfbf00", "opacity": 0.7},
 "encoding": {"x": {"field": "x", "type": "quantitative"}, "y": {"field": "lo", "type": "quantitative"}, "y2": {"field": "hi"}}},
{"data": {"name": "spans"}, "transform": [{"filter": "datum.p == 3 && datum.k == 'outer'"}],
 "mark": {"type": "rect", "color": "#008000", "opacity": 0.25},
 "encoding": {"x": {"field": "x1", "type": "quantitative"}, "x2": {"field": "x2"}}},
{"data": {"name": "spans"}, "transform": [{"filter": "datum.p == 3 && datum.k == 'inner'"}],
 "mark": {"type": "rect", "color": "#008000", "opacity": 0.5},
 "encoding": {"x": {"field": "x1", "type": "quantitative"}, "x2": {"field": "x2"}}},
{"data": {"name": "lines"}, "transform": [{"filter": "datum.p == 3"}],
 "mark": {"type": "line", "clip": true, "strokeWidth": 2.2},
 "encoding": {"x": {"field": "x", "type": "quantitative"}, "y": {"field": "y", "type": "quantitative"}, "order": {"field": "i", "type": "quantitative"},
  "color": {"field": "s", "type": "nominal", "scale": {"domain": ["Initial", "Lensed", "m_break", "estimated"], "range": ["#0000ff", "#ff0000", "#008000", "#b5b530"]},
   "legend": {"title": null, "encode": {"symbols": {"update": {"shape": {"signal": "datum.value === 'estimated' ? 'M-1,-0.35L1,-0.35L1,0.35L-1,0.35Z' : 'M-1,0L1,0'"}, "fill": {"signal": "datum.value === 'estimated' ? '#cbcb33' : 'transparent'"}, "strokeWidth": {"signal": "datum.value === 'estimated' ? 1 : 2.2"}}}}}}}},
{"data": {"name": "vlines"}, "transform": [{"filter": "datum.p == 3"}],
 "mark": {"type": "rule", "strokeWidth": 2},
 "encoding": {"x": {"field": "x", "type": "quantitative"}, "color": {"field": "s", "type": "nominal"}}}
]
}
]
}
